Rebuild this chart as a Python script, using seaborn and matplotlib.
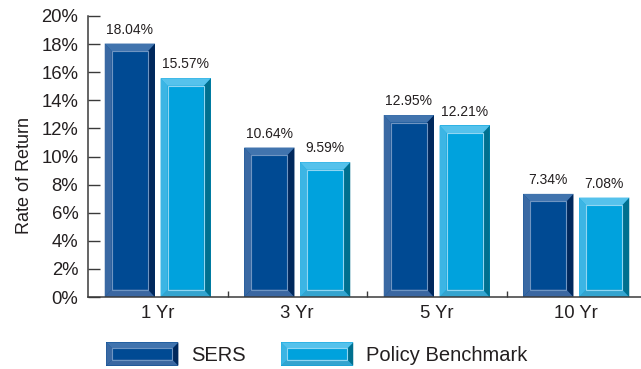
import numpy as np
import pandas as pd
import matplotlib
matplotlib.use("Agg")
import matplotlib.pyplot as plt
from matplotlib.patches import Polygon, Rectangle, Patch
from matplotlib.legend_handler import HandlerBase
import seaborn as sns

# Annualized returns by period
periods = ["1 Yr", "3 Yr", "5 Yr", "10 Yr"]
sers = [18.04, 10.64, 12.95, 7.34]
benchmark = [15.57, 9.59, 12.21, 7.08]
series_names = ["SERS", "Policy Benchmark"]
y_ticks = [0, 2, 4, 6, 8, 10, 12, 14, 16, 18, 20]

df = pd.DataFrame({
    "period": periods * 2,
    "value": sers + benchmark,
    "series": [series_names[0]] * len(periods) + [series_names[1]] * len(periods),
})

# Face and bevel shades for each series
STYLES = {
    "SERS": dict(face="#004a93", top="#4174ae", left="#3a69a3", right="#00285c",
                 bottom="#3b67a1", inner="#6f95c2"),
    "Policy Benchmark": dict(face="#00a2dd", top="#55c2ec", left="#3cb5e4", right="#00708f",
                             bottom="#34a4cf", inner="#90d6f2"),
}

TEXT = "#231f20"
AXIS = "#3a3a3a"
FONT = "Liberation Sans"

sns.set_theme(style="white")
plt.rcParams["font.family"] = [FONT, "DejaVu Sans"]

W, H, DPI = 641, 369, 100
fig = plt.figure(figsize=(W / DPI, H / DPI), dpi=DPI)
ax_left, ax_right, ax_bottom, ax_top = 88, 641, 297, 16
ax = fig.add_axes([ax_left / W, 1 - ax_bottom / H,
                   (ax_right - ax_left) / W, (ax_bottom - ax_top) / H])

sns.barplot(data=df, x="period", y="value", hue="series", hue_order=series_names,
            order=periods, palette=[STYLES[s]["face"] for s in series_names],
            saturation=1, width=0.8, gap=0.1, linewidth=0, legend=False, ax=ax)

group_px = 139.5
ax.set_xlim(-0.5, -0.5 + (ax_right - ax_left) / group_px)
ax.set_ylim(0, 20)


def bevel_artists(x, y, w, h, bx, by, st, **kw):
    pieces = [
        ("bottom", [(x, y), (x + w, y), (x + w - bx, y + by), (x + bx, y + by)]),
        ("left", [(x, y), (x + bx, y + by), (x + bx, y + h - by), (x, y + h)]),
        ("right", [(x + w, y), (x + w - bx, y + by), (x + w - bx, y + h - by), (x + w, y + h)]),
        ("top", [(x, y + h), (x + w, y + h), (x + w - bx, y + h - by), (x + bx, y + h - by)]),
    ]
    arts = [Polygon(pts, closed=True, facecolor=st[k], edgecolor="none", **kw) for k, pts in pieces]
    arts.append(Rectangle((x + bx, y + by), w - 2 * bx, h - 2 * by, facecolor="none",
                          edgecolor=st["inner"], linewidth=0.8, **kw))
    return arts


# Bevel size: about 7 px on the sides, 8 px on top/bottom, in data units
bx = 7.0 / group_px
by = 7.5 / ((ax_bottom - ax_top) / 20.0)

for name, cont in zip(series_names, ax.containers):
    st = STYLES[name]
    for bar in cont:
        x, y = bar.get_x(), bar.get_y()
        w, h = bar.get_width(), bar.get_height()
        for a in bevel_artists(x, y, w, h, bx, by, st, zorder=3):
            ax.add_patch(a)
    ax.bar_label(cont, fmt="{:.2f}%", padding=5, fontsize=10, color=TEXT, family=FONT)

# Axes styling
for side in ["top", "right"]:
    ax.spines[side].set_visible(False)
for side in ["left", "bottom"]:
    ax.spines[side].set_color(AXIS)
    ax.spines[side].set_linewidth(1.1)
    ax.spines[side].set_zorder(5)

ax.set_yticks(y_ticks)
ax.set_yticklabels([f"{t}%" for t in y_ticks])
ax.tick_params(axis="y", direction="in", length=8.6, width=1.0, color=AXIS,
               pad=7, labelsize=13.3, labelcolor=TEXT, left=True)
ax.tick_params(axis="x", which="major", length=0, pad=6, labelsize=13.3, labelcolor=TEXT)
ax.set_xticks([0.5, 1.5, 2.5], minor=True)
ax.tick_params(axis="x", which="minor", direction="in", length=4, width=1.0,
               color=AXIS, bottom=True)

ax.set_xlabel("")
ax.set_ylabel("Rate of Return", fontsize=13, color=TEXT)
ax.yaxis.set_label_coords((33 - ax_left) / (ax_right - ax_left),
                          (ax_bottom - 175) / (ax_bottom - ax_top))


class BevelHandler(HandlerBase):
    def create_artists(self, legend, orig_handle, xdescent, ydescent, width, height,
                       fontsize, trans):
        st = STYLES[orig_handle.get_label()]
        x0, y0 = -xdescent, -ydescent
        b = 4.3
        arts = [Rectangle((x0, y0), width, height, facecolor=st["face"], edgecolor="none",
                          transform=trans)]
        for a in bevel_artists(x0, y0, width, height, b, b, st):
            a.set_transform(trans)
            arts.append(a)
        return arts


handles = [Patch(label=n) for n in series_names]
fig.legend(handles=handles, labels=series_names, loc="center",
           bbox_to_anchor=(317 / W, 1 - 354 / H), ncol=2, frameon=False,
           fontsize=14.5, labelcolor=TEXT, handlelength=3.58, handleheight=1.39,
           handletextpad=0.65, columnspacing=1.74, borderpad=0,
           handler_map={Patch: BevelHandler()})

fig.savefig("out.png", dpi=DPI)
